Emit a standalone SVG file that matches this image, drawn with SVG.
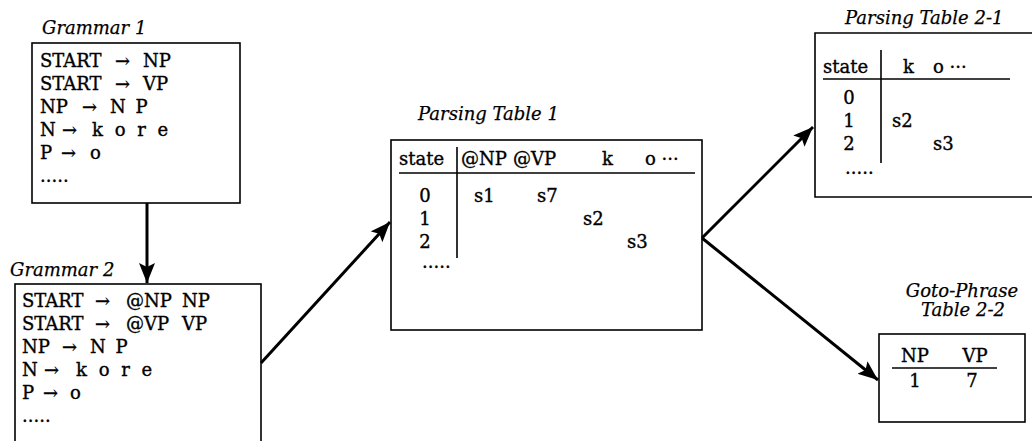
<svg xmlns="http://www.w3.org/2000/svg" width="1032" height="441" viewBox="0 0 1032 441">
<style>
.t{font-family:"DejaVu Serif","Liberation Serif",serif;font-size:18px;fill:#000;stroke:#000;stroke-width:0.35}
.l{font-family:"DejaVu Serif","Liberation Serif",serif;font-size:18px;font-style:italic;fill:#000;stroke:#000;stroke-width:0.25}
.m{text-anchor:middle}
.box{fill:#fff;stroke:#000;stroke-width:1.6}
.rule{stroke:#000;stroke-width:1.6;fill:none}
.conn{stroke:#000;stroke-width:3;fill:none;marker-end:url(#ah)}
.ws{word-spacing:6px}
.ws2{word-spacing:4px}
</style>
<defs>
<marker id="ah" markerUnits="userSpaceOnUse" markerWidth="22" markerHeight="18" refX="20" refY="8" orient="auto">
<path d="M0,0 L20,8 L0,16 L4,8 z" fill="#000"/>
</marker>
</defs>
<rect width="1032" height="441" fill="#fff"/>

<g id="grammar1">
<text class="l" x="42" y="34">Grammar 1</text>
<rect class="box" x="32" y="43" width="208" height="160"/>
<text class="t" y="67"><tspan x="40">START</tspan><tspan x="115">→</tspan><tspan x="143">NP</tspan></text>
<text class="t" y="90"><tspan x="40">START</tspan><tspan x="115">→</tspan><tspan x="143">VP</tspan></text>
<text class="t" y="113"><tspan x="40">NP</tspan><tspan x="82">→</tspan><tspan x="110" class="ws2">N P</tspan></text>
<text class="t" y="136"><tspan x="40">N</tspan><tspan x="62">→</tspan><tspan x="92" class="ws">k o r e</tspan></text>
<text class="t" y="159"><tspan x="40">P</tspan><tspan x="61">→</tspan><tspan x="90">o</tspan></text>
<text class="t" x="40" y="182">.....</text>
</g>

<g id="grammar2">
<text class="l" x="10" y="276">Grammar 2</text>
<rect class="box" x="15" y="284" width="246" height="170"/>
<text class="t" y="307"><tspan x="22">START</tspan><tspan x="95">→</tspan><tspan x="126">@NP</tspan><tspan x="182">NP</tspan></text>
<text class="t" y="330"><tspan x="22">START</tspan><tspan x="95">→</tspan><tspan x="126">@VP</tspan><tspan x="182">VP</tspan></text>
<text class="t" y="353"><tspan x="22">NP</tspan><tspan x="62">→</tspan><tspan x="90" class="ws2">N P</tspan></text>
<text class="t" y="376"><tspan x="22">N</tspan><tspan x="44">→</tspan><tspan x="76" class="ws">k o r e</tspan></text>
<text class="t" y="399"><tspan x="22">P</tspan><tspan x="43">→</tspan><tspan x="70">o</tspan></text>
<text class="t" x="22" y="422">.....</text>
</g>

<g id="parsing-table-1">
<text class="l" x="418" y="120">Parsing Table 1</text>
<rect class="box" x="391" y="140" width="311" height="190"/>
<text class="t" y="165"><tspan x="399">state</tspan><tspan x="461">@NP</tspan><tspan x="513">@VP</tspan><tspan x="602">k</tspan><tspan x="645">o ···</tspan></text>
<line class="rule" x1="399" y1="173" x2="695" y2="173"/>
<line class="rule" x1="457" y1="147" x2="457" y2="258"/>
<text class="t m" x="425" y="202">0</text>
<text class="t m" x="425" y="225">1</text>
<text class="t m" x="425" y="248">2</text>
<text class="t" x="422" y="268">.....</text>
<text class="t" x="474" y="202">s1</text>
<text class="t" x="537" y="202">s7</text>
<text class="t" x="583" y="225">s2</text>
<text class="t" x="627" y="248">s3</text>
</g>

<g id="parsing-table-2-1">
<text class="l" x="845" y="24">Parsing Table 2-1</text>
<path class="rule" d="M1040,33 H815 V197 H1040"/>
<text class="t" y="73"><tspan x="823">state</tspan><tspan x="903">k</tspan><tspan x="933">o ···</tspan></text>
<line class="rule" x1="823" y1="79" x2="1010" y2="79"/>
<line class="rule" x1="881" y1="50" x2="881" y2="163"/>
<text class="t m" x="849" y="104">0</text>
<text class="t m" x="849" y="127">1</text>
<text class="t m" x="849" y="150">2</text>
<text class="t" x="845" y="174">.....</text>
<text class="t" x="892" y="127">s2</text>
<text class="t" x="933" y="150">s3</text>
</g>

<g id="goto-phrase-table-2-2">
<text class="l m" x="962" y="297">Goto-Phrase</text>
<text class="l m" x="963" y="316">Table 2-2</text>
<rect class="box" x="879" y="334" width="146" height="88"/>
<text class="t m" x="915" y="362">NP</text>
<text class="t m" x="975" y="362">VP</text>
<line class="rule" x1="892" y1="368" x2="997" y2="368"/>
<text class="t m" x="915" y="387">1</text>
<text class="t m" x="972" y="387">7</text>
</g>

<g id="connectors">
<line class="conn" x1="147" y1="203" x2="147" y2="283"/>
<line class="conn" x1="261" y1="363" x2="390" y2="222"/>
<line class="conn" x1="702" y1="238" x2="813" y2="127"/>
<line class="conn" x1="702" y1="238" x2="878" y2="380"/>
</g>
</svg>
